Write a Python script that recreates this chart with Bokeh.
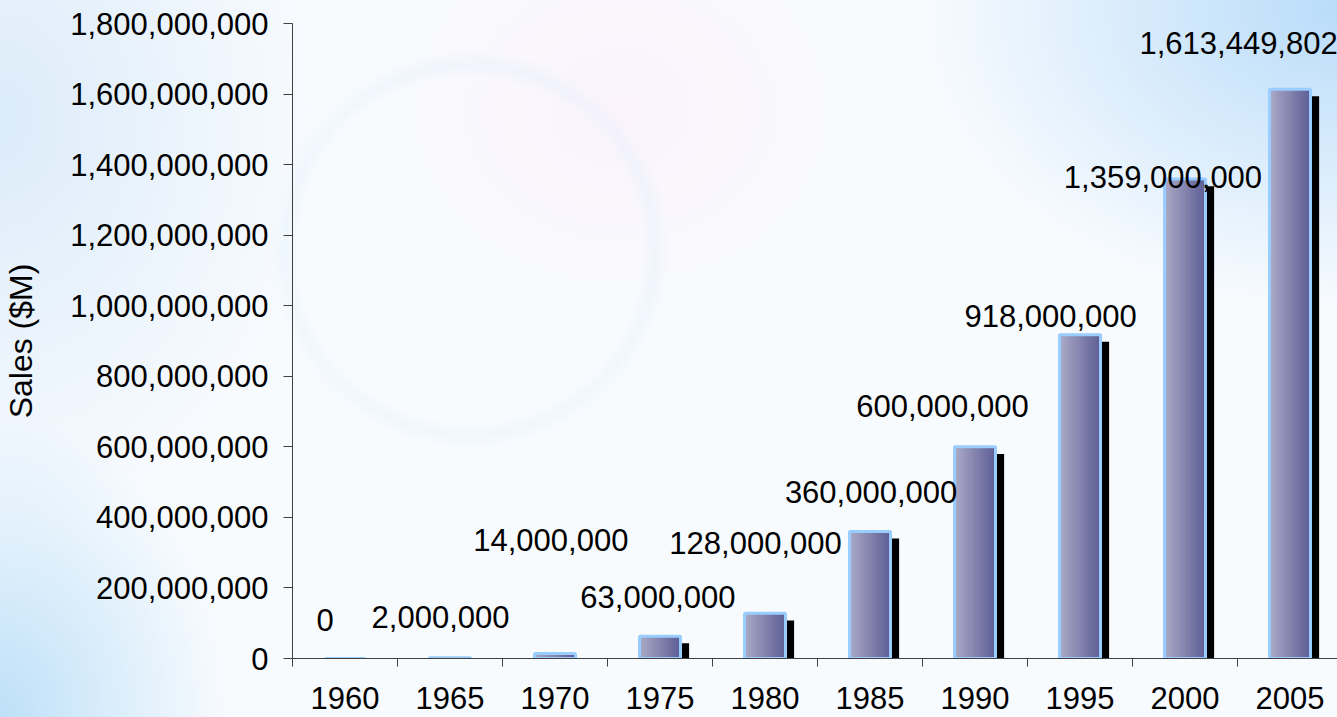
from bokeh.plotting import figure
from bokeh.models import Range1d, FixedTicker, NumeralTickFormatter, ColumnDataSource
from bokeh.core.properties import value
from bokeh.embed import file_html
from bokeh.resources import INLINE

# ---- data ----
years = [1960, 1965, 1970, 1975, 1980, 1985, 1990, 1995, 2000, 2005]
sales = [0, 2000000, 14000000, 63000000, 128000000, 360000000,
         600000000, 918000000, 1359000000, 1613449802]
label_texts = ["0", "2,000,000", "14,000,000", "63,000,000", "128,000,000",
               "360,000,000", "600,000,000", "918,000,000", "1,359,000,000",
               "1,613,449,802"]
# label placement (as moved by hand in the original)
label_dx = [-0.19, -0.09, -0.04, -0.02, -0.09, 0.01, -0.31, -0.28, -0.21, -0.49]
label_y = [110e6, 119e6, 337e6, 173e6, 326e6, 473e6, 717e6, 970e6, 1366e6, 1746e6]
y_ticks = [0, 200e6, 400e6, 600e6, 800e6, 1000e6, 1200e6, 1400e6, 1600e6, 1800e6]

FONT = "Liberation Sans"
W, H = 1337, 717

p = figure(width=W, height=H, output_backend="svg", toolbar_location=None,
           x_range=Range1d(-0.5, 9.452), y_range=Range1d(0, 1.8e9),
           min_border_left=291, min_border_top=23, min_border_bottom=59,
           min_border_right=0)
p.grid.visible = False
p.outline_line_color = None
p.background_fill_alpha = 0
p.border_fill_alpha = 0
p.styles = {
    "background": (
        "radial-gradient(ellipse 420px 300px at 1337px 10px, rgba(165,210,248,0.75), rgba(165,210,248,0) 100%),"
        "radial-gradient(ellipse 230px 300px at 0px 717px, rgba(170,215,246,0.75), rgba(170,215,246,0) 100%),"
        "radial-gradient(ellipse 320px 420px at 0px 120px, rgba(210,230,248,0.75), rgba(210,230,248,0) 100%),"
        "radial-gradient(circle at 470px 250px, rgba(215,235,250,0) 172px, rgba(215,235,250,0.25) 185px, rgba(215,235,250,0) 200px),"
        "radial-gradient(ellipse 260px 220px at 620px 110px, rgba(252,238,250,0.6), rgba(252,238,250,0) 100%),"
        "#f8fbfe"
    )
}

n = len(years)
xs = list(range(n))

# shadow
shift_x = 0.067
shift_y = 20e6
bar_w = 0.39
outer_w = 0.42
p.vbar(x=[x + shift_x for x in xs], width=outer_w, bottom=0,
       top=[max(0, v - shift_y) for v in sales], fill_color="black", line_color=None)

# gradient bar body made of overlapping left-anchored strips
N = 18
c0 = (0xa9, 0xa8, 0xc5)
c1 = (0x5f, 0x60, 0x96)
ql, qr, qt, qc = [], [], [], []
for i, v in zip(xs, sales):
    for k in range(N):
        t = k / (N - 1)
        col = tuple(int(round(c0[j] + (c1[j] - c0[j]) * t)) for j in range(3))
        ql.append(i - bar_w / 2 + k * bar_w / N)
        qr.append(i + bar_w / 2)
        qt.append(v)
        qc.append("#%02x%02x%02x" % col)
p.quad(left=ql, right=qr, bottom=0, top=qt, fill_color=qc, line_color=None)

# outline
p.vbar(x=xs, width=bar_w, bottom=0, top=sales, fill_alpha=0,
       line_color="#99ccff", line_width=3)

# value labels
src = ColumnDataSource(dict(x=[i + d for i, d in zip(xs, label_dx)], y=label_y, t=label_texts))
p.text(x="x", y="y", text="t", source=src, text_align="center", text_baseline="middle",
       text_font=value(FONT), text_font_size="31px", text_color="black")

# axes
ax = p.xaxis[0]
ax.ticker = FixedTicker(ticks=xs, minor_ticks=[k - 0.5 for k in range(n + 1)])
ax.major_label_overrides = {i: str(y) for i, y in zip(xs, years)}
ax.major_tick_line_color = None
ax.major_tick_out = 8
ax.major_tick_in = 0
ax.minor_tick_out = 8
ax.minor_tick_in = 0
ax.minor_tick_line_color = "#404040"
ax.axis_line_color = "#404040"
ax.major_label_standoff = 20
ax.major_label_text_font = FONT
ax.major_label_text_font_size = "31px"
ax.major_label_text_color = "black"

ay = p.yaxis[0]
ay.ticker = FixedTicker(ticks=y_ticks, minor_ticks=[])
ay.formatter = NumeralTickFormatter(format="0,0")
ay.major_tick_out = 9
ay.major_tick_in = 0
ay.major_tick_line_color = "#404040"
ay.axis_line_color = "#404040"
ay.major_label_standoff = 15
ay.major_label_text_font = FONT
ay.major_label_text_font_size = "31px"
ay.major_label_text_color = "black"
ay.axis_label = "Sales ($M)"
ay.axis_label_text_font = FONT
ay.axis_label_text_font_size = "32px"
ay.axis_label_text_font_style = "normal"
ay.axis_label_text_color = "black"
ay.axis_label_standoff = 28

open("out.html", "w").write(file_html(p, INLINE))
